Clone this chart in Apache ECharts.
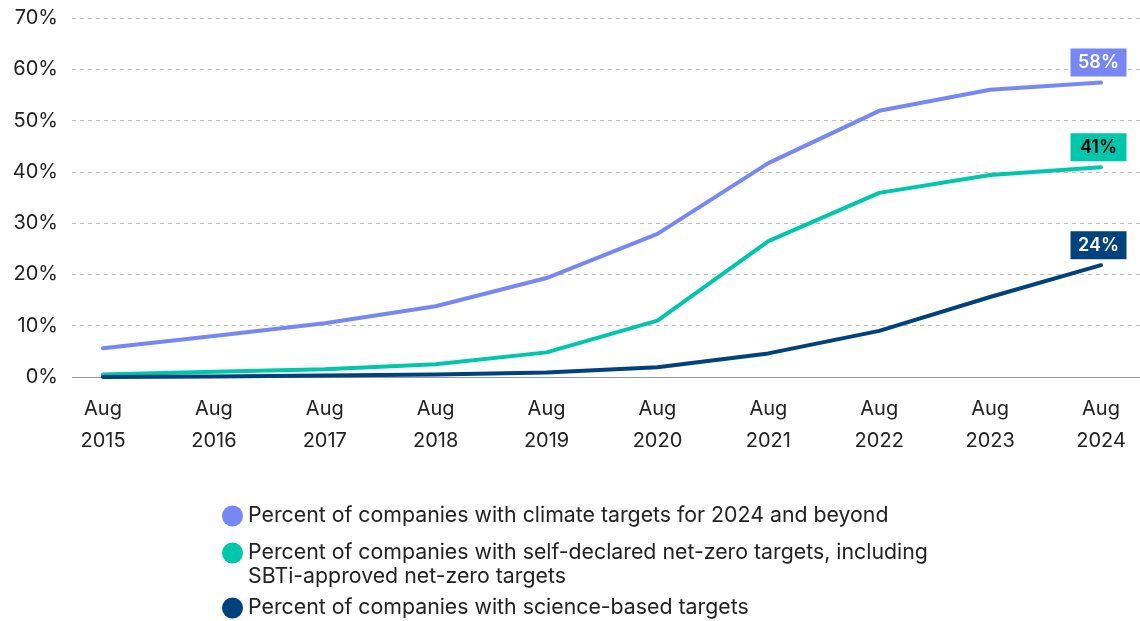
<!DOCTYPE html>
<html>
<head>
<meta charset="utf-8">
<script src="https://cdn.jsdelivr.net/npm/echarts@6/dist/echarts.min.js"></script>
<style>
html,body{margin:0;padding:0;background:#fff;}
#chart{width:1140px;height:621px;}
</style>
</head>
<body>
<div id="chart"></div>
<script>
const categories = ['Aug\n2015','Aug\n2016','Aug\n2017','Aug\n2018','Aug\n2019','Aug\n2020','Aug\n2021','Aug\n2022','Aug\n2023','Aug\n2024'];
const climateTargets = [5.6, 8.0, 10.5, 13.8, 19.3, 27.9, 41.7, 51.9, 56.0, 57.4];
const netZeroTargets = [0.5, 1.0, 1.5, 2.5, 4.8, 11.0, 26.5, 35.9, 39.4, 40.9];
const scienceTargets = [0.0, 0.1, 0.3, 0.5, 0.9, 1.9, 4.6, 9.0, 15.6, 21.8];
const endLabels = ['58%', '41%', '24%'];
const seriesNames = [
  'Percent of companies with climate targets for 2024 and beyond',
  'Percent of companies with self-declared net-zero targets, including\nSBTi-approved net-zero targets',
  'Percent of companies with science-based targets'
];

const colors = ['#7788F4', '#00C6AC', '#00427E'];
const labelText = ['#ffffff', '#000000', '#ffffff'];
const FONT = 'Inter';

function endMark(arr, idx) {
  const last = arr.length - 1;
  return {
    symbol: 'rect',
    symbolSize: [56, 28],
    symbolOffset: [-2.5, -20],
    silent: true,
    itemStyle: { color: colors[idx] },
    label: {
      show: true, position: 'inside',
      formatter: endLabels[idx], color: labelText[idx],
      fontFamily: FONT, fontWeight: 600, fontSize: 18
    },
    data: [{ coord: [last, arr[last]] }]
  };
}

const chart = echarts.init(document.getElementById('chart'), null, {renderer: 'canvas'});
const legendBase = {
  orient: 'vertical',
  left: 222,
  padding: 0,
  icon: 'circle',
  itemWidth: 21,
  itemHeight: 21,
  itemGap: 10,
  selectedMode: false,
  textStyle: { fontFamily: FONT, fontSize: 21.3, color: '#222', lineHeight: 24 }
};
function lineSeries(name, arr, idx) {
  return {
    name: name, type: 'line', xAxisIndex: 1, yAxisIndex: 1, data: arr,
    showSymbol: false, symbol: 'circle',
    lineStyle: { width: 4, color: colors[idx], cap: 'round', join: 'round' },
    itemStyle: { color: colors[idx] },
    markPoint: endMark(arr, idx),
    z: 3 + idx
  };
}
chart.setOption({
  animation: false,
  color: colors,
  grid: [
    { left: 72, right: 0, top: 18, bottom: 244 },
    { left: 103, right: 39, top: 18, bottom: 244 }
  ],
  xAxis: [
    { gridIndex: 0, type: 'category', data: categories, show: false },
    {
      gridIndex: 1, type: 'category', data: categories, boundaryGap: false,
      axisLine: { show: false }, axisTick: { show: false },
      axisLabel: { fontFamily: FONT, fontSize: 20, color: '#222', lineHeight: 32, margin: 16 }
    }
  ],
  yAxis: [
    {
      gridIndex: 0, type: 'value', min: 0, max: 70, interval: 10,
      axisLine: { show: false }, axisTick: { show: false },
      axisLabel: { formatter: v => v + '%', fontFamily: FONT, fontSize: 20, color: '#222', margin: 14 },
      splitLine: { lineStyle: { color: '#bbbbbb', type: [4, 4], width: 1 } }
    },
    { gridIndex: 1, type: 'value', min: 0, max: 70, interval: 10, show: false, splitLine: { show: false } }
  ],
  legend: [
    Object.assign({}, legendBase, { top: 504, data: [seriesNames[0]] }),
    Object.assign({}, legendBase, { top: 517, data: [seriesNames[1]], formatter: n => '\n' + n }),
    Object.assign({}, legendBase, { top: 596, data: [seriesNames[2]] })
  ],
  series: [
    {
      type: 'line', xAxisIndex: 0, yAxisIndex: 0, data: [], silent: true,
      markLine: { symbol: 'none', silent: true, label: { show: false },
        lineStyle: { color: '#999', type: 'solid', width: 1 }, data: [{ yAxis: 0 }] }
    },
    lineSeries(seriesNames[0], climateTargets, 0),
    lineSeries(seriesNames[1], netZeroTargets, 1),
    lineSeries(seriesNames[2], scienceTargets, 2)
  ]
});
</script>
</body>
</html>
